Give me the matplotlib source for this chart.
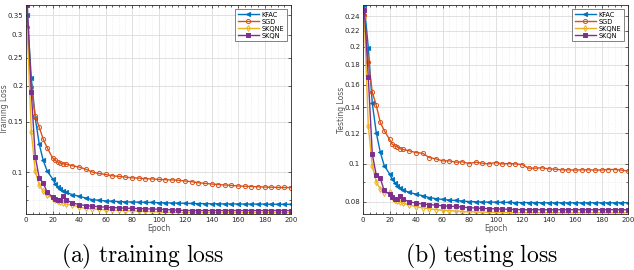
import matplotlib
matplotlib.use("Agg")
import matplotlib.pyplot as plt
from matplotlib.ticker import FixedLocator, NullFormatter, MultipleLocator, LogLocator, FixedFormatter

epochs = [1, 4, 7, 10, 13, 16, 20, 22, 24, 26, 28, 30, 35, 40, 45, 50, 55, 60, 65, 70,
          75, 80, 85, 90, 95, 100, 105, 110, 115, 120, 125, 130, 135, 140, 145, 150,
          155, 160, 165, 170, 175, 180, 185, 190, 195, 200]

train_kfac = [0.350, 0.213, 0.154, 0.1253, 0.110, 0.1011, 0.0951, 0.0914, 0.0890, 0.0876,
              0.0863, 0.0853, 0.0838, 0.0827, 0.0816, 0.0805, 0.0801, 0.0797, 0.0795, 0.0793,
              0.0791, 0.0790, 0.0789, 0.0788, 0.0787, 0.0786, 0.0785, 0.0784, 0.0783, 0.0782,
              0.0781, 0.0780, 0.0780, 0.0779, 0.0779, 0.0778, 0.0778, 0.0778, 0.0777, 0.0777,
              0.0777, 0.0777, 0.0776, 0.0776, 0.0776, 0.0776]
train_sgd = [0.320, 0.197, 0.157, 0.1434, 0.1303, 0.1217, 0.1124, 0.1100, 0.1086, 0.1077,
             0.1071, 0.1069, 0.1055, 0.1044, 0.1027, 0.1003, 0.0992, 0.0984, 0.0974, 0.0969,
             0.0964, 0.0958, 0.0956, 0.0951, 0.0950, 0.0946, 0.0944, 0.0942, 0.0940, 0.0934,
             0.0929, 0.0921, 0.0917, 0.0912, 0.0908, 0.0905, 0.0902, 0.0898, 0.0896, 0.0894,
             0.0892, 0.0890, 0.0889, 0.0887, 0.0887, 0.0886]
train_skqne = [0.310, 0.1385, 0.1008, 0.0907, 0.0860, 0.0833, 0.0816, 0.0805, 0.0794, 0.0790,
               0.0784, 0.0778, 0.0770, 0.0760, 0.0751, 0.0748, 0.0745, 0.0742, 0.0741, 0.0739,
               0.0738, 0.0736, 0.0735, 0.0734, 0.0732, 0.0730, 0.0729, 0.0728, 0.0727, 0.0726,
               0.0726, 0.0726, 0.0726, 0.0726, 0.0726, 0.0726, 0.0726, 0.0726, 0.0726, 0.0726,
               0.0726, 0.0726, 0.0726, 0.0726, 0.0726, 0.0726]
train_skqn = [0.380, 0.190, 0.1135, 0.0956, 0.0919, 0.0853, 0.0822, 0.0812, 0.0805, 0.0805,
              0.0831, 0.0805, 0.0784, 0.0774, 0.0768, 0.0764, 0.0761, 0.0758, 0.0756, 0.0754,
              0.0752, 0.0751, 0.0750, 0.0748, 0.0747, 0.0746, 0.0744, 0.0742, 0.0740, 0.0738,
              0.0738, 0.0738, 0.0738, 0.0738, 0.0738, 0.0738, 0.0738, 0.0738, 0.0738, 0.0738,
              0.0738, 0.0738, 0.0738, 0.0738, 0.0738, 0.0738]

test_kfac = [0.256, 0.199, 0.1432, 0.1204, 0.1073, 0.0990, 0.0943, 0.0913, 0.0895, 0.0878,
             0.0866, 0.0858, 0.0844, 0.0836, 0.0828, 0.0819, 0.0814, 0.0810, 0.0807, 0.0805,
             0.0802, 0.0800, 0.0799, 0.0798, 0.0797, 0.0797, 0.0796, 0.0796, 0.0795, 0.0795,
             0.0795, 0.0795, 0.0794, 0.0794, 0.0794, 0.0794, 0.0794, 0.0794, 0.0794, 0.0794,
             0.0794, 0.0794, 0.0794, 0.0794, 0.0794, 0.0795]
test_sgd = [0.2415, 0.1833, 0.1529, 0.1416, 0.1280, 0.1218, 0.1157, 0.1124, 0.1112, 0.1108,
            0.1093, 0.1089, 0.1080, 0.1069, 0.1065, 0.1038, 0.1030, 0.1018, 0.1018, 0.1010,
            0.1012, 0.1002, 0.1010, 0.1004, 0.1000, 0.1008, 0.1000, 0.1002, 0.1000, 0.0996,
            0.0975, 0.0975, 0.0977, 0.0971, 0.0969, 0.0965, 0.0965, 0.0964, 0.0965, 0.0965,
            0.0964, 0.0964, 0.0967, 0.0967, 0.0964, 0.0958]
test_skqne = [0.2369, 0.1252, 0.0990, 0.0900, 0.0861, 0.0841, 0.0844, 0.0824, 0.0808, 0.0803,
              0.0798, 0.0792, 0.0784, 0.0776, 0.0771, 0.0766, 0.0763, 0.0760, 0.0758, 0.0756,
              0.0754, 0.0753, 0.0752, 0.0751, 0.0751, 0.0750, 0.0750, 0.0749, 0.0749, 0.0749,
              0.0749, 0.0749, 0.0749, 0.0749, 0.0749, 0.0749, 0.0749, 0.0749, 0.0749, 0.0749,
              0.0749, 0.0749, 0.0749, 0.0749, 0.0749, 0.0749]
test_skqn = [0.249, 0.1671, 0.1061, 0.0935, 0.0919, 0.0854, 0.0836, 0.0821, 0.0811, 0.0813,
             0.0828, 0.0811, 0.0799, 0.0792, 0.0788, 0.0786, 0.0783, 0.0780, 0.0778, 0.0777,
             0.0774, 0.0771, 0.0770, 0.0768, 0.0767, 0.0766, 0.0765, 0.0764, 0.0763, 0.0762,
             0.0762, 0.0762, 0.0762, 0.0762, 0.0762, 0.0762, 0.0762, 0.0762, 0.0762, 0.0762,
             0.0762, 0.0762, 0.0762, 0.0762, 0.0762, 0.0762]

train_yticks = [0.1, 0.15, 0.2, 0.25, 0.3, 0.35]
test_yticks = [0.08, 0.1, 0.12, 0.14, 0.16, 0.18, 0.2, 0.22, 0.24]
x_ticks = [0, 20, 40, 60, 80, 100, 120, 140, 160, 180, 200]
labels = ["KFAC", "SGD", "SKQNE", "SKQN"]
captions = [r"$\mathrm{(a)\ training\ loss}$", r"$\mathrm{(b)\ testing\ loss}$"]

colors = ["#0072BD", "#D95319", "#EDB120", "#7E2F8E"]
markers = ["<", "o", "d", "s"]
filled = [True, False, False, True]

plt.rcParams["mathtext.fontset"] = "cm"
fig = plt.figure(figsize=(6.34, 2.70), dpi=100)
ax1 = fig.add_axes([26 / 634, 56 / 270, 265 / 634, 209 / 270])
ax2 = fig.add_axes([363 / 634, 56 / 270, 265 / 634, 209 / 270])

tick_color = "#262626"

def draw(ax, series, yticks, ylim, ylabel):
    for s, lab, c, m, f in zip(series, labels, colors, markers, filled):
        ax.plot(epochs, s, color=c, marker=m, markersize=3.0, linewidth=1.0,
                markerfacecolor=(c if f else "none"), markeredgewidth=0.7,
                label=lab)
    ax.set_yscale("log")
    ax.set_xlim(0, 200)
    ax.set_ylim(*ylim)
    ax.yaxis.set_major_locator(FixedLocator(yticks))
    ax.yaxis.set_major_formatter(FixedFormatter([("%g" % t) for t in yticks]))
    ax.yaxis.set_minor_locator(LogLocator(base=10, subs=[1, 2, 3, 4, 5, 6, 7, 8, 9]))
    ax.yaxis.set_minor_formatter(NullFormatter())
    ax.xaxis.set_major_locator(FixedLocator(x_ticks))
    ax.xaxis.set_minor_locator(MultipleLocator(5))
    ax.grid(True, which="major", color="#dcdcdc", linewidth=0.6)
    ax.grid(True, which="minor", color="#e6e6e6", linewidth=0.5, linestyle=":")
    ax.set_axisbelow(True)
    ax.tick_params(which="both", direction="in", top=True, right=True,
                   labelsize=5, colors=tick_color, length=2.5, width=0.5, pad=2)
    ax.tick_params(which="minor", length=1.3)
    for sp in ax.spines.values():
        sp.set_color(tick_color)
        sp.set_linewidth(0.6)
    ax.set_ylabel(ylabel, fontsize=5.5, color="#555555")
    ax.yaxis.set_label_coords(-0.066, 0.5)
    ax.set_xlabel("Epoch", fontsize=5.5, color="#555555", labelpad=1)
    leg = ax.legend(loc="upper right", fontsize=4.8, frameon=True, fancybox=False,
                    edgecolor=tick_color, borderpad=0.4, handlelength=3.2,
                    labelspacing=0.15, handletextpad=0.4, borderaxespad=0.6)
    leg.get_frame().set_linewidth(0.5)

draw(ax1, [train_kfac, train_sgd, train_skqne, train_skqn], train_yticks,
     (0.0718, 0.38), "Training Loss")
draw(ax2, [test_kfac, test_sgd, test_skqne, test_skqn], test_yticks,
     (0.0743, 0.2563), "Testing Loss")

fig.text(142.5 / 634, 14 / 270, captions[0], ha="center", va="center", fontsize=17)
fig.text(481 / 634, 14 / 270, captions[1], ha="center", va="center", fontsize=17)

fig.savefig("out.png", dpi=100)
